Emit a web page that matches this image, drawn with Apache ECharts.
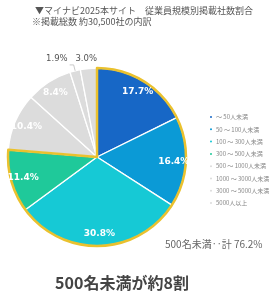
<!DOCTYPE html>
<html><head><meta charset="utf-8">
<script src="https://cdn.jsdelivr.net/npm/echarts@6/dist/echarts.min.js"></script>
<style>html,body{margin:0;padding:0;background:#fff}#c{width:273px;height:299px}</style>
</head><body><div id="c"></div>
<script>
const categories = ['〜 50人未満','50 〜 100人未満','100 〜 300人未満','300 〜 500人未満','500 〜 1000人未満','1000 〜 3000人未満','3000 〜 5000人未満','5000人以上'];
const values = [17.7, 16.4, 30.8, 11.4, 10.4, 8.4, 1.9, 3.0];
const colors = ['#1767C6','#0B9AD6','#16C9D5','#1FC99A','#DCDCDC','#DCDCDC','#DCDCDC','#DCDCDC'];
const highlightCount = 4;
const highlightTotal = 76.2;
const titleLines = ['▼マイナビ2025本サイト　従業員規模別掲載社数割合','※掲載総数 約30,500社の内訳'];
const subtotalText = '500名未満‥計 ' + highlightTotal + '%';
const headline = '500名未満が約8割';

const FONT = '"Noto Sans CJK JP", "Noto Sans", sans-serif';
const center = [97, 157];
const R = 89;
const gold = '#EAC12E';

const chart = echarts.init(document.getElementById('c'), null, {renderer: 'canvas'});

const mainData = values.map((v, i) => ({name: categories[i], value: v, itemStyle: {color: colors[i]}}));
const hiSum = values.slice(0, highlightCount).reduce((a, b) => a + b, 0);
const restSum = values.slice(highlightCount).reduce((a, b) => a + b, 0);

const labelData = values.map((v, i) => ({name: 'lbl' + i, value: v, label: {show: v >= 5}}));
const outerData = values.map((v, i) => ({
  name: 'out' + i, value: v,
  label: {show: v < 5},
  labelLine: {show: i === 6}
}));
// small nudges for the two outside labels (text offsets only)
const outsideShift = {6: [-1, -6], 7: [14, -4]};

chart.setOption({
  animation: false,
  title: [
    {text: titleLines[0], left: 30, top: 1, textStyle: {fontFamily: FONT, fontSize: 9, fontWeight: 'normal', color: '#555'}},
    {text: titleLines[1], left: 27, top: 12, textStyle: {fontFamily: FONT, fontSize: 9, fontWeight: 'normal', color: '#555'}},
    {text: subtotalText, left: 160, top: 234, textStyle: {fontFamily: FONT, fontSize: 10, fontWeight: 'normal', color: '#666'}},
    {text: headline, left: 117, top: 270, textAlign: 'center', textStyle: {fontFamily: FONT, fontSize: 16, fontWeight: 'bold', color: '#444'}}
  ],
  legend: {
    orient: 'vertical', left: 203, top: 108,
    data: categories,
    icon: 'circle', itemWidth: 4, itemHeight: 4, itemGap: 4.3,
    textStyle: {fontFamily: FONT, fontSize: 6, color: '#888', lineHeight: 8, padding: [0,0,0,-2]},
    selectedMode: false
  },
  series: [
    {
      type: 'pie', center: center, radius: [0, R], startAngle: 90, clockwise: true,
      data: mainData, label: {show: false}, labelLine: {show: false},
      itemStyle: {borderColor: '#fff', borderWidth: 1.3}, silent: true
    },
    {
      type: 'pie', center: center, radius: [0, R], startAngle: 90, clockwise: true,
      data: [
        {name: 'hi', value: hiSum, itemStyle: {color: 'rgba(0,0,0,0)', borderColor: gold, borderWidth: 2.5}},
        {name: 'rest', value: restSum, itemStyle: {color: 'rgba(0,0,0,0)', borderWidth: 0}}
      ],
      label: {show: false}, labelLine: {show: false}, silent: true, z: 3
    },
    {
      type: 'pie', center: center, radius: [R * 0.66, R], startAngle: 90, clockwise: true,
      avoidLabelOverlap: false,
      data: labelData,
      itemStyle: {color: 'rgba(0,0,0,0)'},
      labelLine: {show: false},
      label: {position: 'inside', formatter: p => p.value.toFixed(1) + '%', color: '#fff', fontWeight: 'bold', fontSize: 9, fontFamily: 'Verdana, "DejaVu Sans", sans-serif'},
      silent: true, z: 4
    },
    {
      type: 'pie', center: center, radius: [0, R], startAngle: 90, clockwise: true,
      avoidLabelOverlap: false,
      data: outerData,
      itemStyle: {color: 'rgba(0,0,0,0)'},
      label: {position: 'outside', formatter: p => p.value.toFixed(1) + '%', color: '#555', fontSize: 8.5, fontFamily: 'Verdana, "DejaVu Sans", sans-serif', distanceToLabelLine: 1},
      labelLine: {length: 6, length2: 4, lineStyle: {color: '#bbb', width: 0.8}},
      labelLayout: function (p) {
        const s = outsideShift[p.dataIndex] || [0, 0];
        return {hideOverlap: false, dx: s[0], dy: s[1]};
      },
      silent: true, z: 5
    }
  ]
});
</script>
</body></html>
